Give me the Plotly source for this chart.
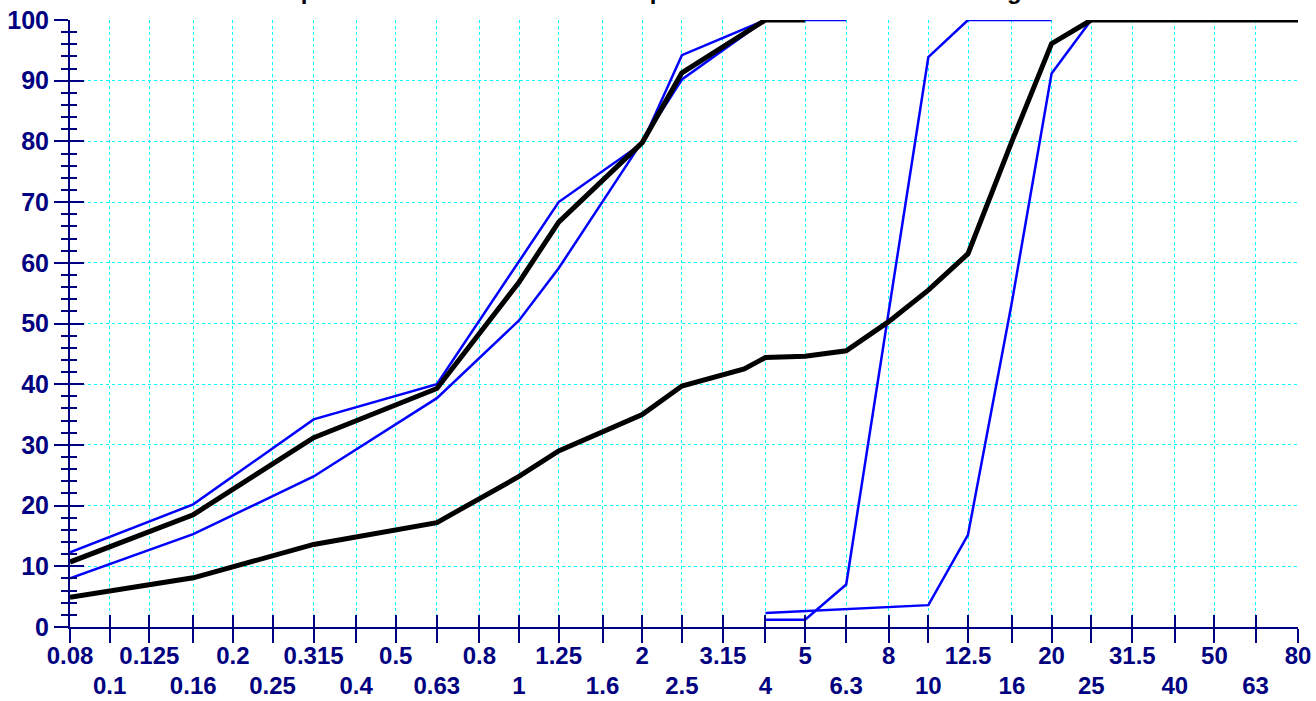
import plotly.graph_objects as go
import math

# ---------------- data ----------------
SIEVES = [0.08, 0.1, 0.125, 0.16, 0.2, 0.25, 0.315, 0.4, 0.5, 0.63, 0.8, 1, 1.25, 1.6, 2,
          2.5, 3.15, 4, 5, 6.3, 8, 10, 12.5, 16, 20, 25, 31.5, 40, 50, 63, 80]
TICK_LABELS = ["0.08", "0.1", "0.125", "0.16", "0.2", "0.25", "0.315", "0.4", "0.5", "0.63",
               "0.8", "1", "1.25", "1.6", "2", "2.5", "3.15", "4", "5", "6.3", "8", "10",
               "12.5", "16", "20", "25", "31.5", "40", "50", "63", "80"]

# fine fraction – envelope (blue) and sample (black)
fine_upper_x = [0.08, 0.16, 0.315, 0.63, 1.25, 2, 2.5, 4, 5, 6.3]
fine_upper_y = [12.3, 20.2, 34.2, 40.0, 70.0, 79.7, 94.2, 100, 100, 100]
fine_lower_x = [0.08, 0.16, 0.315, 0.63, 1, 1.25, 2, 2.5, 4, 5]
fine_lower_y = [8.0, 15.3, 24.8, 37.7, 50.5, 59.1, 80.0, 90.2, 100, 100]
fine_sample_x = [0.08, 0.16, 0.315, 0.63, 1, 1.25, 2, 2.5, 4, 5]
fine_sample_y = [10.7, 18.5, 31.2, 39.3, 56.8, 66.7, 79.8, 91.3, 100, 100]

# coarse fraction – envelope (blue)
coarse_a_x = [4, 5, 6.3, 10, 12.5, 16, 20]
coarse_a_y = [1.2, 1.2, 7.0, 93.9, 100, 100, 100]
coarse_b_x = [4, 10, 12.5, 16, 20, 25, 31.5, 40, 50, 63, 80]
coarse_b_y = [2.3, 3.6, 15.2, 53.5, 91.2, 100, 100, 100, 100, 100, 100]

# combined sample (black)
mix_x = [0.08, 0.16, 0.315, 0.63, 1, 1.25, 2, 2.5, 3.55, 4, 5, 6.3, 8, 10, 12.5, 16, 20,
         25, 31.5, 40, 50, 63, 80]
mix_y = [4.9, 8.1, 13.6, 17.2, 24.8, 29.0, 35.0, 39.7, 42.5, 44.4, 44.6, 45.5, 50.3, 55.5,
         61.5, 80.0, 96.1, 100, 100, 100, 100, 100, 100]

TITLE = "Representative Test Results Compared with the Standard Grading Limits"

# ---------------- style ----------------
NAVY = "#000080"
CYAN = "#00FFFF"
BLUE = "#0000FF"
FONT = "Liberation Sans, Arial, sans-serif"

fig = go.Figure()
for xs, ys in [(fine_upper_x, fine_upper_y), (fine_lower_x, fine_lower_y),
               (coarse_a_x, coarse_a_y), (coarse_b_x, coarse_b_y)]:
    fig.add_trace(go.Scatter(x=xs, y=ys, mode="lines", cliponaxis=False,
                             line=dict(color=BLUE, width=2.5), showlegend=False))
for xs, ys in [(fine_sample_x, fine_sample_y), (mix_x, mix_y)]:
    fig.add_trace(go.Scatter(x=xs, y=ys, mode="lines", cliponaxis=False,
                             line=dict(color="black", width=5), showlegend=False))
# empty helper trace so that the overlaid tick axes (second label row / inner ticks) are drawn
fig.add_trace(go.Scatter(x=SIEVES, y=[None] * len(SIEVES), xaxis="x2", yaxis="y2",
                         mode="lines", hoverinfo="skip", showlegend=False))

xr = [math.log10(SIEVES[0]), math.log10(SIEVES[-1])]
row1 = [t if i % 2 == 0 else "" for i, t in enumerate(TICK_LABELS)]
row2 = [t if i % 2 == 1 else "" for i, t in enumerate(TICK_LABELS)]
tfont = dict(family=FONT, size=24, color=NAVY, weight="bold")

fig.update_layout(
    width=1316, height=701,
    margin=dict(l=70, r=18, t=20, b=74),
    paper_bgcolor="white", plot_bgcolor="white",
    showlegend=False,
    xaxis=dict(type="log", range=xr, tickmode="array", tickvals=SIEVES, ticktext=row1,
               ticks="outside", ticklen=14, tickwidth=2, tickcolor=NAVY,
               showline=True, linecolor=NAVY, linewidth=2, mirror=False, automargin=False,
               showgrid=True, gridcolor=CYAN, griddash="dot", gridwidth=1,
               zeroline=False, tickfont=tfont, tickangle=0, ticklabelstandoff=-8),
    xaxis2=dict(type="log", range=xr, overlaying="x", anchor="y2", side="bottom",
                tickmode="array", tickvals=SIEVES, ticktext=row2, automargin=False,
                ticks="inside", ticklen=12, tickwidth=2, tickcolor=NAVY,
                showline=False, showgrid=False, zeroline=False,
                tickfont=tfont, tickangle=0, ticklabelstandoff=42),
    yaxis=dict(range=[0, 100], tick0=0, dtick=10, ticks="outside", ticklen=14,
               tickwidth=2, tickcolor=NAVY, showline=True, linecolor=NAVY, linewidth=2,
               showgrid=True, gridcolor=CYAN, griddash="dot", gridwidth=1, zeroline=False,
               automargin=False,
               tickfont=dict(family=FONT, size=25, color=NAVY, weight="bold"),
               minor=dict(dtick=2, ticks="outside", ticklen=7, tickwidth=2,
                          tickcolor=NAVY, showgrid=False)),
    yaxis2=dict(range=[0, 100], overlaying="y", anchor="x2", side="left", tick0=0, dtick=10,
                ticks="inside", ticklen=14, tickwidth=2, tickcolor=NAVY, automargin=False,
                showticklabels=False, showline=False, showgrid=False, zeroline=False,
                minor=dict(dtick=2, ticks="inside", ticklen=7, tickwidth=2,
                           tickcolor=NAVY, showgrid=False)),
)
fig.add_annotation(text=TITLE, xref="paper", yref="paper", x=0.5, y=1, yanchor="bottom",
                   xanchor="center", yshift=14, showarrow=False,
                   font=dict(family=FONT, size=24, color="black", weight="bold"))

fig.write_html("out.html")
